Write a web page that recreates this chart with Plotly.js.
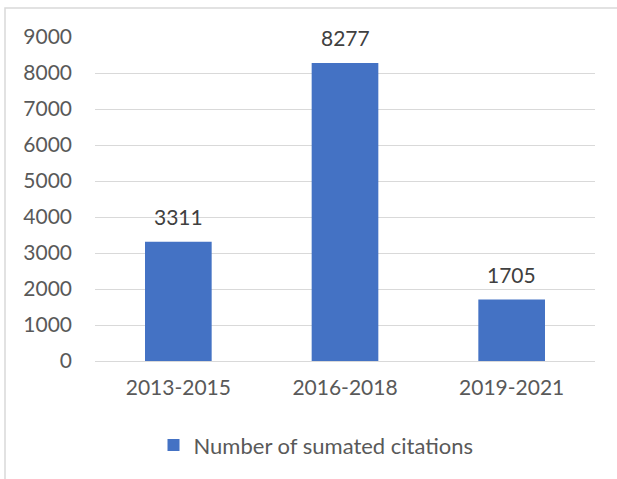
<!DOCTYPE html>
<html>
<head>
<meta charset="utf-8">
<script src="https://cdn.plot.ly/plotly-3.0.1.min.js"></script>
<style>html,body{margin:0;padding:0;background:#fff;}#chart{width:617px;height:479px;}</style>
</head>
<body>
<div id="chart"></div>
<script>
var categories = ["2013-2015", "2016-2018", "2019-2021"];
var citations = [3311, 8277, 1705];
var seriesName = "Number of sumated citations";
var yTicks = [0, 1000, 2000, 3000, 4000, 5000, 6000, 7000, 8000, 9000];

var fam = "Lato, 'Open Sans', sans-serif";
var font = {family: fam, size: 21, color: "#595959"};

var trace = {
  type: "bar",
  x: categories,
  y: citations,
  name: seriesName,
  marker: {color: "#4472C4"},
  textposition: "none",
  showlegend: true
};

var annotations = categories.map(function (c, i) {
  return {
    x: c, y: citations[i], xref: "x", yref: "y",
    text: String(citations[i]), showarrow: false,
    xanchor: "center", yanchor: "bottom", yshift: 11,
    font: {family: fam, size: 21, color: "#404040"}
  };
});

var layout = {
  width: 617, height: 479,
  margin: {l: 95, r: 22, t: 37, b: 118},
  paper_bgcolor: "#fff", plot_bgcolor: "#fff",
  font: font,
  bargap: 0.6,
  xaxis: {
    showgrid: false, showline: true, linecolor: "#d9d9d9", linewidth: 1,
    ticks: "", tickfont: font, ticklabelstandoff: 8
  },
  yaxis: {
    range: [0, 9000], tickvals: yTicks, ticktext: yTicks.map(String),
    showgrid: true, gridcolor: "#d9d9d9", gridwidth: 1,
    zeroline: false, showline: false, ticks: "", tickfont: font,
    ticklabelstandoff: 22
  },
  showlegend: true,
  legend: {
    orientation: "h", x: 0.442, xanchor: "center", y: -0.26, yanchor: "middle",
    font: {family: fam, size: 22, color: "#595959"}, itemwidth: 30
  },
  annotations: annotations,
  shapes: [{
    type: "rect", xref: "paper", yref: "paper",
    x0: -90 / 500, x1: 1.2, y0: -0.5, y1: 1 + 29 / 324,
    line: {color: "#d9d9d9", width: 1.5}, fillcolor: "rgba(0,0,0,0)", layer: "below"
  }]
};

Plotly.newPlot("chart", [trace], layout, {displayModeBar: false, staticPlot: true});
</script>
</body>
</html>
